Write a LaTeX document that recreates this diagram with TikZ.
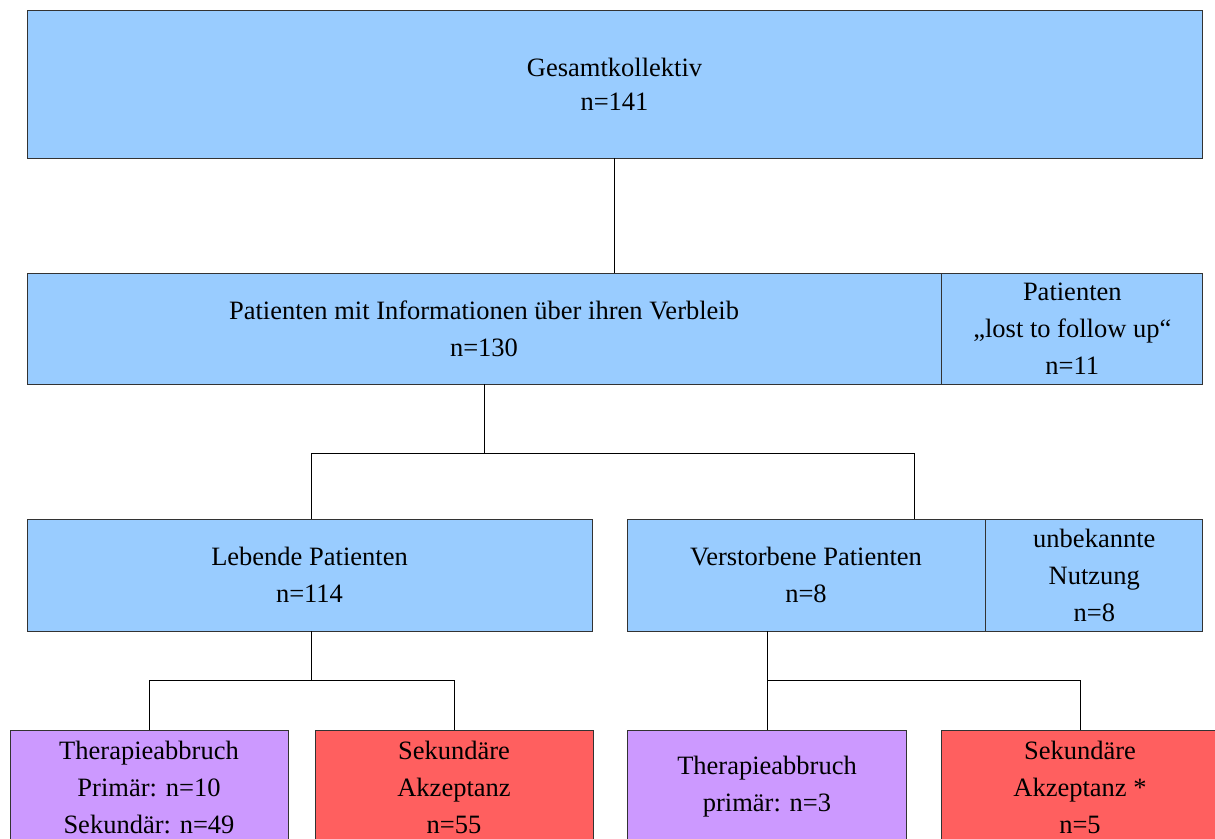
\documentclass[tikz,border=0pt]{standalone}
\usepackage{fontspec}
\setmainfont{Liberation Serif}
\usepackage{tikz}
\usetikzlibrary{positioning}
\definecolor{hellblau}{HTML}{99CCFF}
\definecolor{lila}{HTML}{CC99FF}
\definecolor{rot}{HTML}{FF5F5F}
\tikzstyle{box} = [rectangle, draw=black!80, line width=0.8pt, align=center, inner sep=0pt, font=\fontsize{26.5}{37}\selectfont]
\tikzstyle{gruppe} = [box, fill=hellblau, minimum height=111pt]
\tikzstyle{abbruch} = [box, fill=lila, minimum width=278pt, minimum height=114pt]
\tikzstyle{akzeptanz} = [box, fill=rot, minimum width=278pt, minimum height=114pt]
\tikzstyle{linie} = [line width=0.8pt, black]

\begin{document}
\begin{tikzpicture}[x=1pt, y=-1pt]
    \useasboundingbox (0,0) rectangle (1215,838);

    \node (ges) [gruppe, minimum width=1175pt, minimum height=148pt, font=\fontsize{26.5}{34}\selectfont] at (614.5,84) {Gesamtkollektiv\\n=141};
    \node (info) [gruppe, minimum width=914pt] at (484,328.5) {Patienten mit Informationen über ihren Verbleib\\n=130};
    \node (lost) [gruppe, minimum width=261pt, right=0pt of info] {Patienten\\„lost to follow up“\\n=11};
    \node (leb) [gruppe, minimum width=565pt, minimum height=112pt] at (309.5,575) {Lebende Patienten\\n=114};
    \node (tot) [gruppe, minimum width=358pt, minimum height=112pt] at (806,575) {Verstorbene Patienten\\n=8};
    \node (unbek) [gruppe, minimum width=217pt, minimum height=112pt, right=0pt of tot] {unbekannte\\Nutzung\\n=8};
    \node (abbrA) [abbruch] at (149,787) {Therapieabbruch\\Primär: n=10\\Sekundär: n=49};
    \node (akzA) [akzeptanz] at (454,787) {Sekundäre\\Akzeptanz\\n=55};
    \node (abbrB) [abbruch, minimum width=279pt] at (767,787) {Therapieabbruch\\primär: n=3};
    \node (akzB) [akzeptanz] at (1080,787) {Sekundäre\\Akzeptanz *\\n=5};

    \coordinate (v1) at (484,453);
    \coordinate (v2) at (311,680);
    \coordinate (v3) at (767,680);

    \draw [linie] (ges.south) -- (ges.south |- info.north);
    \draw [linie] (info.south) -- (v1);
    \draw [linie] (v1) -| (leb.north -| v2);
    \draw [linie] (v1) -| (914,519);
    \draw [linie] (v2 |- leb.south) -- (v2);
    \draw [linie] (v2) -| (abbrA.north);
    \draw [linie] (v2) -| (akzA.north);
    \draw [linie] (v3 |- tot.south) -- (v3);
    \draw [linie] (v3) -| (abbrB.north);
    \draw [linie] (v3) -| (akzB.north);
\end{tikzpicture}
\end{document}
